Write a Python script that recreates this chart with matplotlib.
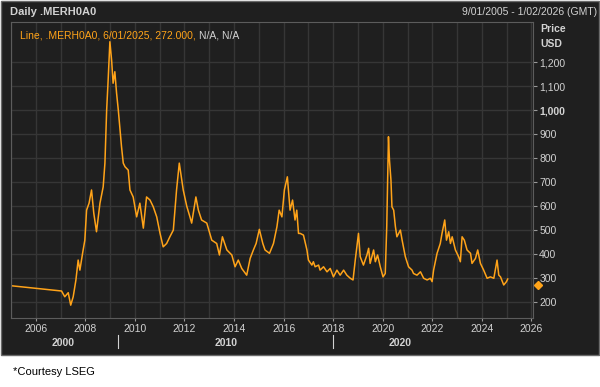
import numpy as np
import matplotlib
matplotlib.use("Agg")
from matplotlib import pyplot as plt
from matplotlib.patches import Rectangle
import matplotlib.transforms as mtrans

# series (decimal year, price USD)
years = [2005.00, 2007.04, 2007.17, 2007.31, 2007.41, 2007.51, 2007.62, 2007.71, 2007.78,
         2007.89, 2007.98, 2008.05, 2008.15, 2008.25, 2008.34, 2008.45, 2008.59, 2008.72,
         2008.79, 2008.86, 2008.92, 2008.99, 2009.06, 2009.12, 2009.19, 2009.26, 2009.33,
         2009.46, 2009.53, 2009.60, 2009.73, 2009.80, 2009.93, 2010.07, 2010.20, 2010.34,
         2010.47, 2010.61, 2010.74, 2010.88, 2011.01, 2011.14, 2011.28, 2011.41, 2011.55,
         2011.68, 2011.79, 2011.95, 2012.09, 2012.22, 2012.29, 2012.46, 2012.56, 2012.69,
         2012.90, 2013.10, 2013.30, 2013.41, 2013.53, 2013.71, 2013.91, 2014.04, 2014.17,
         2014.31, 2014.51, 2014.65, 2014.78, 2014.89, 2015.02, 2015.16, 2015.25, 2015.43,
         2015.59, 2015.73, 2015.82, 2015.93, 2016.03, 2016.15, 2016.26, 2016.36, 2016.46,
         2016.53, 2016.60, 2016.67, 2016.80, 2016.94, 2017.00, 2017.14, 2017.20, 2017.27,
         2017.41, 2017.47, 2017.61, 2017.75, 2017.88, 2018.01, 2018.15, 2018.28, 2018.42,
         2018.55, 2018.69, 2018.80, 2018.89, 2019.02, 2019.09, 2019.22, 2019.36, 2019.43,
         2019.49, 2019.63, 2019.70, 2019.79, 2019.90, 2020.01, 2020.10, 2020.16, 2020.23,
         2020.27, 2020.33, 2020.37, 2020.44, 2020.51, 2020.57, 2020.64, 2020.71, 2020.78,
         2020.91, 2021.04, 2021.18, 2021.24, 2021.38, 2021.52, 2021.65, 2021.79, 2021.92,
         2021.99, 2022.05, 2022.19, 2022.32, 2022.39, 2022.50, 2022.57, 2022.66, 2022.73,
         2022.80, 2022.93, 2023.06, 2023.13, 2023.20, 2023.29, 2023.40, 2023.54, 2023.60,
         2023.74, 2023.83, 2023.94, 2024.07, 2024.21, 2024.34, 2024.48, 2024.61, 2024.68,
         2024.75, 2024.88, 2024.99, 2025.04]
prices = [268, 246, 222, 239, 187, 222, 292, 375, 333,
          404, 458, 583, 612, 667, 571, 493, 612, 680,
          779, 1000, 1125, 1285, 1208, 1112, 1160, 1071, 1000,
          847, 779, 764, 750, 667, 638, 555, 612, 508,
          638, 625, 597, 555, 488, 430, 444, 472, 500,
          667, 779, 667, 600, 555, 529, 638, 583, 542,
          529, 458, 444, 396, 472, 417, 396, 347, 375,
          340, 312, 382, 417, 444, 503, 444, 417, 403,
          444, 514, 583, 555, 667, 722, 583, 625, 542,
          583, 486, 486, 479, 417, 375, 354, 368, 347,
          354, 333, 347, 326, 340, 305, 333, 312, 333,
          312, 299, 292, 375, 486, 389, 354, 396, 424,
          361, 417, 368, 396, 347, 305, 319, 514, 889,
          792, 708, 597, 583, 514, 472, 486, 500, 458,
          389, 347, 333, 319, 312, 326, 299, 292, 299,
          285, 333, 403, 444, 486, 542, 458, 493, 444,
          472, 417, 389, 368, 472, 458, 417, 403, 361,
          382, 417, 361, 333, 299, 305, 299, 375, 312,
          305, 271, 285, 296]
last_value = 272
xticks = list(range(2006, 2027, 2))
yticks = list(range(200, 1201, 100))
ytick_labels = ["{:,}".format(v) for v in yticks]
decades = ["2000", "2010", "2020"]
decade_pos = [2007.09, 2013.68, 2020.71]
decade_sep = [2009.33, 2017.99]

bg = "#1f1f1f"
grid = "#363636"
txt = "#d2d2d2"
orange = "#ffa319"

plt.rcParams['font.family'] = ['Liberation Sans', 'DejaVu Sans']

fig = plt.figure(figsize=(6, 3.87), dpi=100)
fig.patch.set_facecolor("white")
fig.patches.append(Rectangle((0.002, 0.083), 0.996, 0.915, transform=fig.transFigure,
                             facecolor=bg, edgecolor="#6a6a6a", linewidth=1, zorder=-10))

ax = fig.add_axes([0.0183, 0.178, 0.870, 0.765])
ax.set_facecolor(bg)
ax.plot(years, prices, color=orange, linewidth=1.1)
ax.set_xlim(2005.0, 2026.06)
ax.set_ylim(133, 1367)

ax.set_xticks(range(2005, 2027), minor=True)
ax.set_xticks(xticks)
ax.set_yticks(yticks)
ax.set_yticklabels(ytick_labels)
ax.yaxis.tick_right()
ax.grid(True, which='both', axis='x', color=grid, linewidth=1)
ax.grid(True, axis='y', color=grid, linewidth=1)
ax.tick_params(axis='x', which='minor', length=0)
ax.tick_params(axis='x', which='major', length=2, color="#9a9a9a", labelcolor=txt,
               labelsize=7.5, pad=2)
ax.tick_params(axis='y', length=3, color="#9a9a9a", labelcolor=txt, labelsize=7.5, pad=1.5)
for lab in ax.get_yticklabels():
    if lab.get_text() == "1,000":
        lab.set_fontweight('bold')
for s in ax.spines.values():
    s.set_color("#5c5c5c")

# second tier of the date axis
tr = mtrans.blended_transform_factory(ax.transData, ax.transAxes)
for name, pos in zip(decades, decade_pos):
    ax.text(pos, -0.083, name, transform=tr, ha='center', va='center', color=txt,
            fontsize=7.5, fontweight='bold')
for pos in decade_sep:
    ax.plot([pos, pos], [-0.058, -0.1], transform=tr, color=txt, linewidth=0.8, clip_on=False)

# last value marker
tr2 = mtrans.blended_transform_factory(ax.transAxes, ax.transData)
ax.plot([1.01], [last_value], transform=tr2, marker='D', markersize=4.5, color=orange,
        clip_on=False, linestyle='none')

# header texts
fig.text(0.017, 0.969, "Daily .MERH0A0", color=txt, fontsize=8, fontweight='bold',
         ha='left', va='center')
fig.text(0.995, 0.969, "9/01/2005 - 1/02/2026 (GMT)", color=txt, fontsize=7.5,
         ha='right', va='center')
fig.text(0.900, 0.925, "Price", color=txt, fontsize=7.5, fontweight='bold', va='center')
fig.text(0.900, 0.886, "USD", color=txt, fontsize=7.5, fontweight='bold', va='center')
t1 = ax.text(0.018, 0.955, "Line, .MERH0A0, 6/01/2025, 272.000, ", transform=ax.transAxes,
             color=orange, fontsize=7.5, ha='left', va='center')
ax.annotate("N/A, N/A", xy=(1, 0.5), xycoords=t1, color=txt, fontsize=7.5,
            ha='left', va='center')

fig.text(0.022, 0.038, "*Courtesy LSEG", color="black", fontsize=8, ha='left', va='center')

fig.savefig("out.png", dpi=100, facecolor=fig.get_facecolor())
